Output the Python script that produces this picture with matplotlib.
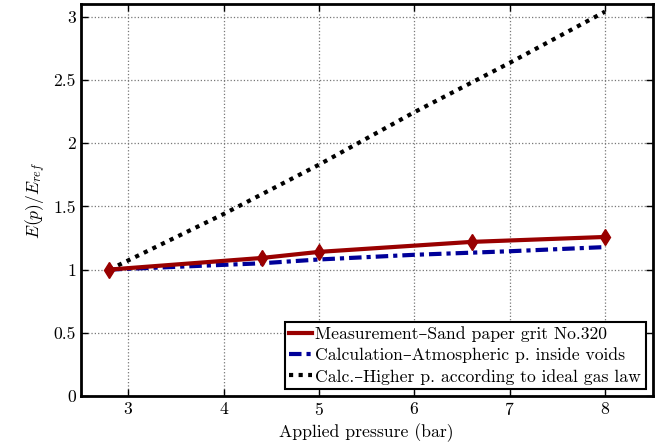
import matplotlib
matplotlib.use("Agg")
import matplotlib.pyplot as plt

plt.rcParams['font.family'] = ['cmr10', 'DejaVu Serif']
plt.rcParams['mathtext.fontset'] = 'cm'
plt.rcParams['axes.formatter.use_mathtext'] = True

# measured points (sand paper grit No.320)
p_meas = [2.8, 4.4, 5.0, 6.6, 8.0]
e_meas = [1.0, 1.092, 1.14, 1.219, 1.258]

# calculation, atmospheric pressure inside voids
p_atm = [2.8, 4.4, 5.0, 6.0, 7.0, 8.0]
e_atm = [1.0, 1.05, 1.08, 1.117, 1.145, 1.178]

# calculation, higher pressure by ideal gas law
p_gas = [2.8, 4.0, 5.0, 6.0, 7.0, 8.0]
e_gas = [1.0, 1.44, 1.83, 2.245, 2.635, 3.04]

labels = ["Measurement\u2013Sand paper grit No.320",
          "Calculation\u2013Atmospheric p. inside voids",
          "Calc.\u2013Higher p. according to ideal gas law"]

fs = 12.7

fig = plt.figure(figsize=(6.62, 4.47), dpi=100)
ax = fig.add_axes([0.122, 0.114, 0.864, 0.877])

ax.plot(p_meas, e_meas, color='#990000', lw=3, marker='d', markersize=8, label=labels[0], zorder=4)
ax.plot(p_atm, e_atm, color='#000099', lw=3, linestyle=(0, (3, 1.2, 1, 1.2)), label=labels[1], zorder=3)
ax.plot(p_gas, e_gas, color='black', lw=3, linestyle=(0, (1, 1.3)), label=labels[2], zorder=3)

ax.set_xlim(2.5, 8.5)
ax.set_ylim(0, 3.1)
ax.set_xticks([3, 4, 5, 6, 7, 8])
ax.set_yticks([0, 0.5, 1, 1.5, 2, 2.5, 3])
ax.set_yticklabels(['0', '0.5', '1', '1.5', '2', '2.5', '3'])
ax.grid(True, linestyle=':', color='#777777', lw=0.9)
ax.tick_params(direction='in', top=True, right=True, length=5, width=1, labelsize=fs)
for s in ax.spines.values():
    s.set_linewidth(2)

ax.set_xlabel("Applied pressure (bar)", fontsize=fs)
ax.set_ylabel("$E(p)/E_{ref}$", fontsize=fs)

leg = ax.legend(loc='lower right', fontsize=fs, handlelength=1.3, handletextpad=0.2,
                borderpad=0.25, labelspacing=0.3, fancybox=False, framealpha=1,
                borderaxespad=0.4, numpoints=1)
leg.get_frame().set_edgecolor('black')
leg.get_frame().set_linewidth(1.5)
for h in leg.get_lines():
    h.set_marker('')

fig.savefig("out.png", dpi=100)
